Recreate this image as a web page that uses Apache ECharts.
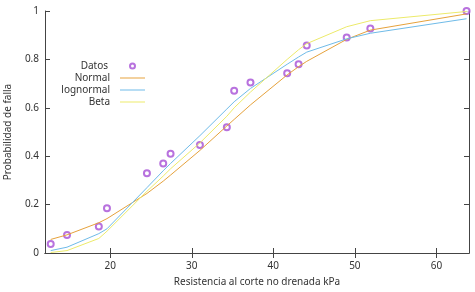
<!DOCTYPE html>
<html>
<head>
<meta charset="utf-8">
<script src="https://cdn.jsdelivr.net/npm/echarts@6/dist/echarts.min.js"></script>
<style>
  html, body { margin: 0; padding: 0; background: #fff; }
  #chart { width: 475px; height: 292px; }
</style>
</head>
<body>
<div id="chart"></div>
<script>
// values
const resistencia = [12.7, 14.7, 18.6, 19.6, 24.5, 26.5, 27.4, 31.0, 34.3, 35.2, 37.2, 41.7, 43.1, 44.1, 49.0, 51.9, 63.7];
const datos     = [0.037, 0.074, 0.11, 0.185, 0.33, 0.37, 0.41, 0.446, 0.52, 0.67, 0.705, 0.743, 0.78, 0.857, 0.89, 0.928, 1.0];
const normal    = [0.056, 0.075, 0.125, 0.142, 0.246, 0.297, 0.322, 0.424, 0.525, 0.552, 0.612, 0.736, 0.770, 0.792, 0.883, 0.921, 0.988];
const lognormal = [0.01, 0.024, 0.08, 0.10, 0.27, 0.34, 0.37, 0.485, 0.595, 0.625, 0.68, 0.78, 0.81, 0.83, 0.885, 0.908, 0.968];
const beta      = [0.002, 0.01, 0.06, 0.09, 0.255, 0.318, 0.348, 0.455, 0.565, 0.60, 0.665, 0.80, 0.84, 0.865, 0.935, 0.96, 0.998];

const xTicks = [20, 30, 40, 50, 60];

const font = 'Noto Sans';
const ink = '#333';
const frame = '#444';

const pairs = ys => resistencia.map((x, i) => [x, ys[i]]);

// one legend per entry so text can sit right-aligned with the sample on the right
const names = ['Datos', 'Normal', 'lognormal', 'Beta'];
const legends = names.map((n, i) => ({
  data: [n],
  right: i === 0 ? 339 : 330,
  top: 61 + i * 12,
  align: 'right',
  icon: i === 0 ? 'emptyCircle' : 'rect',
  itemWidth: i === 0 ? 5 : 25,
  itemHeight: i === 0 ? 5 : 1,
  itemGap: 0,
  padding: 0,
  textStyle: { fontFamily: font, fontSize: 10, color: ink, padding: [0, i === 0 ? 17 : 5, 0, 0] }
}));

const lineSeries = (name, ys, color) => ({
  name, type: 'line', data: pairs(ys),
  symbol: 'none', smooth: false,
  lineStyle: { color, width: 1 }, itemStyle: { color }
});

const chart = echarts.init(document.getElementById('chart'));
chart.setOption({
  backgroundColor: '#fff',
  animation: false,
  grid: { left: 45, right: 6, top: 11, bottom: 39, containLabel: false, outerBoundsMode: 'none' },
  legend: legends,
  xAxis: [
    {
      type: 'value', min: 12, max: 64,
      name: 'Resistencia al corte no drenada kPa',
      nameLocation: 'middle', nameGap: 24,
      nameTextStyle: { fontFamily: font, fontSize: 10, color: ink },
      axisLine: { lineStyle: { color: frame } },
      axisTick: { inside: true, length: 5, lineStyle: { color: frame }, customValues: xTicks },
      axisLabel: { fontFamily: font, fontSize: 10, color: ink, margin: 8, customValues: xTicks },
      splitLine: { show: false }
    },
    {
      type: 'value', min: 12, max: 64, position: 'top',
      axisLine: { show: true, lineStyle: { color: frame } },
      axisTick: { inside: true, length: 5, lineStyle: { color: frame }, customValues: xTicks },
      axisLabel: { show: false },
      splitLine: { show: false }
    }
  ],
  yAxis: [
    {
      type: 'value', min: 0, max: 1, interval: 0.2,
      name: 'Probabilidad de falla',
      nameLocation: 'middle', nameGap: 32,
      nameTextStyle: { fontFamily: font, fontSize: 10, color: ink },
      axisLine: { show: true, lineStyle: { color: frame } },
      axisTick: { show: true, inside: true, length: 5, lineStyle: { color: frame } },
      axisLabel: { fontFamily: font, fontSize: 10, color: ink, margin: 6 },
      splitLine: { show: false }
    },
    {
      type: 'value', min: 0, max: 1, interval: 0.2, position: 'right',
      axisLine: { show: true, lineStyle: { color: frame } },
      axisTick: { show: true, inside: true, length: 5, lineStyle: { color: frame } },
      axisLabel: { show: false },
      splitLine: { show: false }
    }
  ],
  series: [
    {
      name: 'Datos', type: 'scatter', data: pairs(datos),
      symbol: 'emptyCircle', symbolSize: 6,
      itemStyle: { color: '#a64fd6', borderWidth: 1 }
    },
    lineSeries('Normal', normal, '#e6a23c'),
    lineSeries('lognormal', lognormal, '#6fbbe8'),
    lineSeries('Beta', beta, '#ecea6a')
  ]
});
</script>
</body>
</html>
